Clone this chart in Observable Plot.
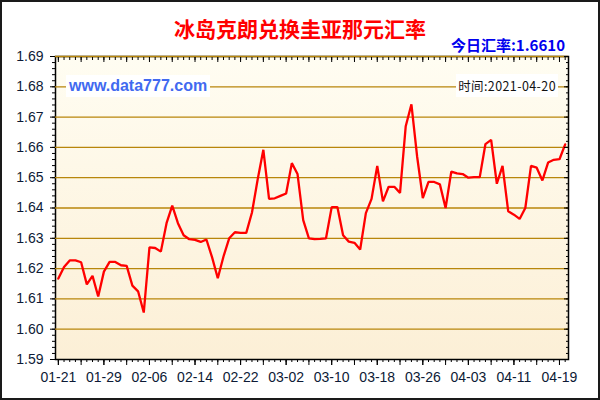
<!DOCTYPE html>
<html>
<head>
<meta charset="utf-8">
<script src="https://cdn.jsdelivr.net/npm/d3@7"></script>
<script src="https://cdn.jsdelivr.net/npm/@observablehq/plot@0.6"></script>
<style>
  html, body { margin: 0; padding: 0; background: #fff; }
  #wrap { position: relative; width: 600px; height: 400px; overflow: hidden; background: #fff; }
  #wrap svg { position: absolute; left: 0; top: 0; }
  .ov { position: absolute; white-space: nowrap; line-height: 1; }
  #title { left: 0; width: 600px; top: 13px; text-align: center; font: bold 21px "Noto Sans CJK SC", sans-serif; color: #ff0000; }
  #today { right: 35px; top: 34px; font: bold 15px "Noto Sans CJK SC", "Liberation Sans", sans-serif; color: #0000ee; }
  #site { left: 66px; top: 75px; padding: 2px 3px; background: #fff; font: bold 16px "Liberation Sans", Arial, sans-serif; color: #4169f0; }
  #time { right: 42px; top: 74px; padding: 2px 2px; background: #fff; font: 12.5px "Noto Sans CJK SC", "Liberation Sans", sans-serif; color: #111; letter-spacing: 0.4px; }
  #border { position: absolute; left: 0; top: 0; width: 600px; height: 400px; box-sizing: border-box; border: 2px solid #1a1a1a; pointer-events: none; }
</style>
</head>
<body>
<div id="wrap">
  <div id="chart"></div>
  <div class="ov" id="title">冰岛克朗兑换圭亚那元汇率</div>
  <div class="ov" id="today">今日汇率:1.6610</div>
  <div class="ov" id="site">www.data777.com</div>
  <div class="ov" id="time">时间:2021-04-20</div>
  <div id="border"></div>
</div>
<script>
// ---- data ----
const startDate = "2021-01-21";
const endDate = "2021-04-20";
const rates = [
  1.6167,1.6205,1.6227,1.6227,1.6221,1.6148,1.6176,1.6108,1.6190,1.6222,
  1.6222,1.6211,1.6209,1.6144,1.6125,1.6055,1.6270,1.6268,1.6256,1.6350,
  1.6408,1.6350,1.6310,1.6297,1.6295,1.6288,1.6296,1.6237,1.6168,1.6240,
  1.6300,1.6320,1.6318,1.6318,1.6385,1.6494,1.6592,1.6430,1.6432,1.6440,
  1.6448,1.6548,1.6512,1.6360,1.6300,1.6297,1.6298,1.6300,1.6403,1.6403,
  1.6310,1.6289,1.6285,1.6263,1.6383,1.6430,1.6539,1.6422,1.6470,1.6470,
  1.6450,1.6670,1.6742,1.6570,1.6433,1.6486,1.6486,1.6478,1.6400,1.6520,
  1.6514,1.6512,1.6500,1.6502,1.6502,1.6611,1.6625,1.6480,1.6539,1.6389,
  1.6378,1.6364,1.6400,1.6539,1.6533,1.6491,1.6550,1.6559,1.6561,1.6610
];
const xTickLabels = ["01-21","01-29","02-06","02-14","02-22","03-02","03-10","03-18","03-26","04-03","04-11","04-19"];
const yTickValues = [1.59,1.60,1.61,1.62,1.63,1.64,1.65,1.66,1.67,1.68,1.69];

// ---- build table ----
const parse = d3.utcParse("%Y-%m-%d");
const t0 = parse(startDate), t1 = parse(endDate);
const days = d3.utcDay.range(t0, d3.utcDay.offset(t1, 1));
const data = days.map((d, i) => ({date: d, rate: rates[i]}));
const fmt = d3.utcFormat("%m-%d");
const labelDates = days.filter(d => xTickLabels.includes(fmt(d)));
const majorX = days.filter((d, i) => i % 4 === 0);
const minorY = d3.range(0, 51).map(i => +(1.59 + i * 0.002).toFixed(3));
const blank = () => "";

const chart = Plot.plot({
  width: 600,
  height: 400,
  marginTop: 56,
  marginBottom: 41,
  marginLeft: 55,
  marginRight: 32,
  style: {fontFamily: "'Liberation Sans', Arial, sans-serif", fontSize: "14px", color: "#0d1a36", background: "transparent", overflow: "visible"},
  x: {type: "utc", domain: [d3.utcHour.offset(t0, -12), d3.utcHour.offset(t1, 14)]},
  y: {domain: [1.59, 1.69]},
  marks: [
    Plot.frame({fill: "url(#bgGrad)", stroke: "#000", strokeWidth: 1.5}),
    Plot.ruleY(yTickValues.filter(v => v > 1.59), {stroke: "#b8860b", strokeWidth: 1.3}),
    Plot.line(data, {x: "date", y: "rate", stroke: "#ff0000", strokeWidth: 2.3, strokeLinejoin: "miter"}),
    // left axis
    Plot.axisY({label: null, ticks: yTickValues, tickFormat: d3.format(".2f"), tickSize: 5, tickPadding: 7, stroke: "#000", fill: "#0d1a36"}),
    Plot.axisY({label: null, ticks: minorY, tickFormat: blank, tickSize: 3, stroke: "#000"}),
    // right axis (inward ticks)
    Plot.axisY({label: null, anchor: "right", ticks: yTickValues, tickFormat: blank, tickSize: 5, dx: -5, stroke: "#000"}),
    Plot.axisY({label: null, anchor: "right", ticks: minorY, tickFormat: blank, tickSize: 3, dx: -3, stroke: "#000"}),
    // bottom axis
    Plot.axisX({label: null, ticks: labelDates, tickFormat: fmt, tickSize: 6, tickPadding: 7, stroke: "#000", fill: "#0d1a36"}),
    Plot.axisX({label: null, ticks: majorX, tickFormat: blank, tickSize: 6, stroke: "#000"}),
    Plot.axisX({label: null, ticks: days, tickFormat: blank, tickSize: 3, stroke: "#000"}),
    // top axis (inward ticks)
    Plot.axisX({label: null, anchor: "top", ticks: majorX, tickFormat: blank, tickSize: 5, dy: 5, stroke: "#000"}),
    Plot.axisX({label: null, anchor: "top", ticks: days, tickFormat: blank, tickSize: 3, dy: 3, stroke: "#000"})
  ]
});

// gradient for plot background
const svg = d3.select(chart.tagName.toLowerCase() === "svg" ? chart : chart.querySelector("svg"));
const defs = svg.insert("defs", ":first-child");
const grad = defs.append("linearGradient").attr("id", "bgGrad").attr("x1", 0).attr("y1", 0).attr("x2", 0).attr("y2", 1);
grad.append("stop").attr("offset", "0%").attr("stop-color", "#fffdf2");
grad.append("stop").attr("offset", "100%").attr("stop-color", "#fcefd6");

document.getElementById("chart").appendChild(chart);
</script>
</body>
</html>
